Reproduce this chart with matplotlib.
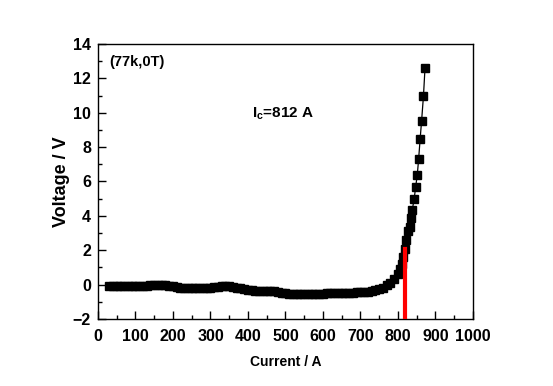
import matplotlib
matplotlib.use("Agg")
import matplotlib.pyplot as plt
from matplotlib.ticker import MultipleLocator

# measured V-I curve (77 K, 0 T)
current = [30, 40, 50, 60, 70, 80, 90, 100, 110, 120, 130, 140, 150, 160, 170, 180,
           190, 200, 210, 220, 230, 240, 250, 260, 270, 280, 290, 300, 310, 320, 330,
           340, 350, 360, 370, 380, 390, 400, 410, 420, 430, 440, 450, 460, 470, 480,
           490, 500, 510, 520, 530, 540, 550, 560, 570, 580, 590, 600, 610, 620, 630,
           640, 650, 660, 670, 680, 690, 700, 710, 720, 730, 740, 750, 760, 770, 780,
           790, 800, 806, 810, 814, 818, 822, 827.5, 831, 835, 838, 843, 847, 851.5,
           855, 859, 863, 868, 872]
voltage = [-0.08, -0.08, -0.08, -0.08, -0.09, -0.1, -0.1, -0.1, -0.1, -0.09, -0.08,
           -0.05, -0.03, -0.02, -0.03, -0.04, -0.07, -0.1, -0.14, -0.18, -0.2, -0.21,
           -0.21, -0.2, -0.2, -0.19, -0.19, -0.18, -0.16, -0.13, -0.1, -0.08, -0.09,
           -0.12, -0.17, -0.21, -0.26, -0.31, -0.34, -0.38, -0.39, -0.37, -0.35, -0.36,
           -0.4, -0.45, -0.49, -0.51, -0.52, -0.52, -0.53, -0.53, -0.53, -0.52, -0.52,
           -0.53, -0.52, -0.52, -0.51, -0.5, -0.5, -0.49, -0.48, -0.48, -0.47, -0.46,
           -0.44, -0.43, -0.42, -0.41, -0.38, -0.33, -0.25, -0.17, -0.05, 0.12, 0.3,
           0.62, 0.9, 1.2, 1.6, 2.1, 2.6, 3.14, 3.37, 3.86, 4.34, 4.96, 5.66, 6.39,
           7.29, 8.45, 9.54, 10.99, 12.58]

ic_line_x = 819      # where the red marker line sits
ic_line_top = 2.05

plt.rcParams['font.family'] = ['Liberation Sans', 'DejaVu Sans']

fig = plt.figure(figsize=(5.53, 3.86), dpi=100)
ax = fig.add_axes([0.1772, 0.1736, 0.8553 - 0.1772, 0.886 - 0.1736])

ax.plot(current, voltage, color='black', lw=0.9, marker='s', ms=5.5,
        markerfacecolor='black', markeredgecolor='black', zorder=2)
ax.plot([ic_line_x, ic_line_x], [-2, ic_line_top], color='#ff0000', lw=3, zorder=3)

ax.set_xlim(0, 1000)
ax.set_ylim(-2, 14)
ax.xaxis.set_major_locator(MultipleLocator(100))
ax.xaxis.set_minor_locator(MultipleLocator(50))
ax.yaxis.set_major_locator(MultipleLocator(2))
ax.yaxis.set_minor_locator(MultipleLocator(1))
ax.tick_params(which='both', direction='in', top=False, right=False, width=1)
ax.tick_params(which='major', length=6, labelsize=11.5, pad=5)
ax.tick_params(which='minor', length=3)
ax.tick_params(axis='x', which='major', pad=7)
for lab in ax.get_xticklabels() + ax.get_yticklabels():
    lab.set_fontweight('bold')
for sp in ax.spines.values():
    sp.set_linewidth(1)

ax.set_ylabel('Voltage / V', fontsize=13, fontweight='bold', labelpad=2)
ax.set_xlabel('Current / A', fontsize=10, fontweight='bold')
ax.xaxis.set_label_coords(0.5, -0.13)

ax.text(0.03, 0.935, '(77k,0T)', transform=ax.transAxes, fontsize=10.5,
        fontweight='bold', ha='left', va='center')
ax.text(0.41, 0.745, r'I$_{\mathregular{c}}$=812 A', transform=ax.transAxes,
        fontsize=11, fontweight='bold', ha='left', va='center')

fig.savefig('out.png', dpi=100)
